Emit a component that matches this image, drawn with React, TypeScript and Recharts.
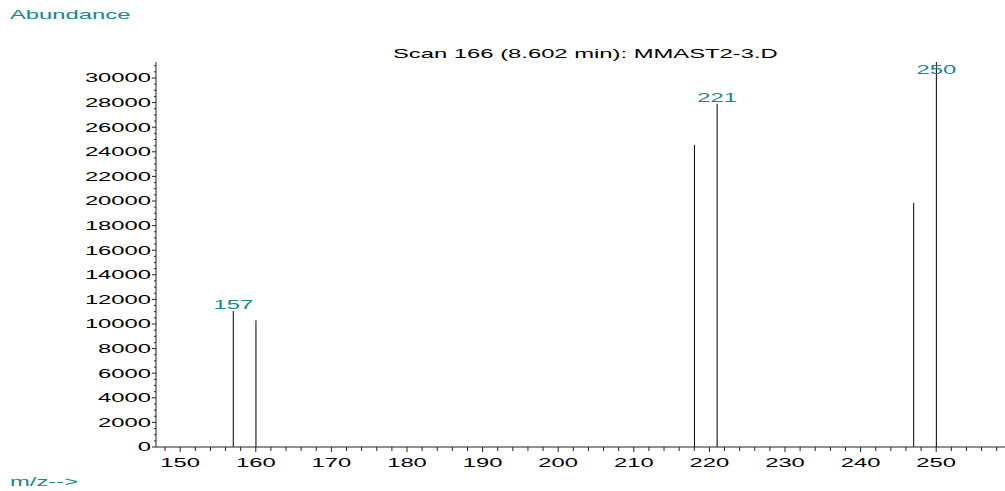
import { BarChart, Bar, XAxis, YAxis, LabelList } from "recharts";

// peaks
const mzValues = [157, 160, 218, 221, 247, 250];
const abundances = [11050, 10300, 24550, 27900, 19850, 31300];
const peakLabels = ["157", "", "", "221", "", "250"];

const xLabelTicks = [150, 160, 170, 180, 190, 200, 210, 220, 230, 240, 250];
const yLabelTicks = [0, 2000, 4000, 6000, 8000, 10000, 12000, 14000, 16000, 18000, 20000, 22000, 24000, 26000, 28000, 30000];

const xTicks: number[] = [];
for (let v = 148; v <= 258; v += 2) xTicks.push(v);
const yTicks: number[] = [];
for (let v = 0; v <= 31000; v += 500) yTicks.push(v);

const data = mzValues.map((mz, i) => ({ mz, abundance: abundances[i], label: peakLabels[i] }));

const TEAL = "#17898a";
const FONT = "'Liberation Sans', Arial, sans-serif";
const STRETCH = 1.83;

function YTick(props: any) {
  const { x, y, payload } = props;
  const major = yLabelTicks.includes(payload.value);
  return (
    <g>
      <line x1={x - (major ? 4 : 2)} x2={x} y1={y} y2={y} stroke="#222" />
      {major && (
        <text
          transform={`translate(${x - 5},${y}) scale(${STRETCH},1)`}
          textAnchor="end"
          dominantBaseline="central"
          fontSize={13}
          fontFamily={FONT}
          fill="#000"
        >
          {payload.value}
        </text>
      )}
    </g>
  );
}

function XTick(props: any) {
  const { x, y, payload } = props;
  const major = xLabelTicks.includes(payload.value);
  return (
    <g>
      <line x1={x} x2={x} y1={y} y2={y + (major ? 5 : 4)} stroke="#222" />
      {major && (
        <text
          transform={`translate(${x},${y + 16}) scale(${STRETCH},1)`}
          textAnchor="middle"
          dominantBaseline="central"
          fontSize={13}
          fontFamily={FONT}
          fill="#000"
        >
          {payload.value}
        </text>
      )}
    </g>
  );
}

function PeakLabel(props: any) {
  const { x, y, width, value } = props;
  if (!value) return null;
  return (
    <text
      transform={`translate(${x + width / 2},${Math.max(y - 2, 74)}) scale(${STRETCH},1)`}
      textAnchor="middle"
      fontSize={13}
      fontFamily={FONT}
      fill={TEAL}
    >
      {value}
    </text>
  );
}

const outerText = (extra: React.CSSProperties): React.CSSProperties => ({
  position: "absolute",
  fontFamily: FONT,
  fontSize: 13,
  lineHeight: "13px",
  whiteSpace: "nowrap",
  transformOrigin: "0 50%",
  transform: `scaleX(${STRETCH})`,
  ...extra,
});

export default function App() {
  return (
    <div style={{ position: "absolute", left: 0, top: 0, width: 1005, height: 491, background: "#fff" }}>
      <div style={outerText({ left: 10, top: 8, color: TEAL })}>Abundance</div>
      <div style={outerText({ left: 393, top: 47, color: "#000" })}>Scan 166 (8.602 min): MMAST2-3.D</div>
      <div style={outerText({ left: 10, top: 475, color: TEAL })}>m/z--&gt;</div>
      <BarChart width={1005} height={491} data={data} margin={{ top: 62, right: 0, bottom: 0, left: 0 }}>
        <XAxis
          dataKey="mz"
          type="number"
          domain={[146.8, 259.1]}
          ticks={xTicks}
          interval={0}
          allowDataOverflow
          height={44}
          tickSize={0}
          tickMargin={0}
          tickLine={false}
          tick={<XTick />}
          axisLine={{ stroke: "#222" }}
        />
        <YAxis
          type="number"
          domain={[0, 31300]}
          ticks={yTicks}
          interval={0}
          allowDataOverflow
          width={156}
          tickSize={0}
          tickMargin={0}
          tickLine={false}
          tick={<YTick />}
          axisLine={{ stroke: "#222" }}
        />
        <Bar dataKey="abundance" fill="#000" barSize={1} isAnimationActive={false}>
          <LabelList dataKey="label" content={<PeakLabel />} />
        </Bar>
      </BarChart>
    </div>
  );
}
